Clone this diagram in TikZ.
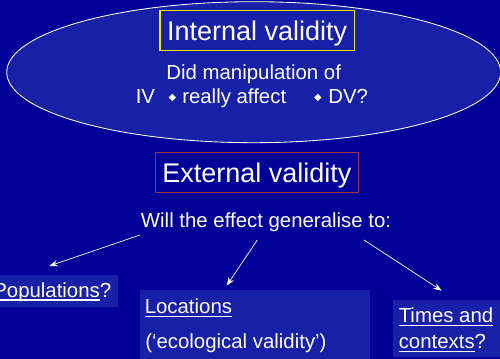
\documentclass[tikz,border=0pt]{standalone}
\usepackage{fontspec}
\setmainfont{Liberation Sans}
\newfontfamily\symbole{DejaVu Sans}
\usetikzlibrary{arrows.meta}
\definecolor{fond}{RGB}{0,0,153}
\definecolor{remplissage}{RGB}{24,32,168}
\definecolor{jaune}{RGB}{232,232,0}
\definecolor{rouge}{RGB}{160,48,72}
\newcommand\souligne[1]{\setbox0\hbox{#1}\rlap{\rule[-2.3pt]{\wd0}{0.9pt}}\box0}
\newcommand\losange{{\symbole\fontsize{7}{8}\selectfont ◆}}
\begin{document}
\begin{tikzpicture}[x=0.025cm,y=-0.025cm]
% Styles
\tikzstyle{texte}=[text=white,inner sep=0pt,font=\fontsize{14.5}{17}\selectfont]
\tikzstyle{titre}=[text=white,inner sep=0pt,line width=0.8pt,anchor=base,text height=21.5pt,text depth=7pt,font=\fontsize{19.2}{23}\selectfont]
\tikzstyle{cadre}=[fill=remplissage]
\tikzstyle{fleche}=[-{Stealth[length=6pt,width=4.5pt]},white,line width=0.5pt]
% Fond
\fill[fond] (0,0) rectangle (500,359);
\useasboundingbox (0,0) rectangle (500,359);
% Validité interne
\draw[white,fill=remplissage,line width=0.6pt] (253.7,72.2) ellipse [x radius=247,y radius=70.5];
\node[titre,draw=jaune,minimum width=4.86cm] (interne) at (257.2,41) {Internal validity};
\node[texte,anchor=base] (question) at (253.7,80) {Did manipulation of};
\node[texte,anchor=base west] (iv) at (135.5,103.3) {IV};
\node[text=white,inner sep=0pt] (los1) at (172.5,98) {\losange};
\node[texte,anchor=base west] (affect) at (182,103.3) {really affect};
\node[text=white,inner sep=0pt] (los2) at (318,98) {\losange};
\node[texte,anchor=base west] (dv) at (328,103.3) {DV?};
% Validité externe
\node[titre,draw=rouge,minimum width=5.09cm] (externe) at (256.9,182.7) {External validity};
\node[texte,anchor=base] (general) at (266,227.3) {Will the effect generalise to:};
% Cadres du bas
\fill[cadre] (0,275) rectangle (118,307);
\fill[cadre] (140,290) rectangle (370,362);
\fill[cadre] (392.7,300) rectangle (502,357);
\node[texte,anchor=base east] (pop) at (111.5,297.5) {\souligne{Populations}?};
\node[texte,anchor=base west] (loc) at (144.5,313.7) {\souligne{Locations}};
\node[texte,anchor=base west] (eco) at (145,349) {(‘ecological validity’)};
\node[texte,anchor=base west] (times) at (398.5,323) {\souligne{Times and}};
\node[texte,anchor=base west] (contexts) at (398.5,349) {\souligne{contexts}?};
% Flèches
\coordinate (d1) at (140,235);
\coordinate (d2) at (257.3,240);
\coordinate (d3) at (364,240);
\coordinate (a1) at (49.3,266);
\coordinate (a2) at (226.7,285.7);
\coordinate (a3) at (441.7,290.7);
\draw[fleche] (d1) -- (a1);
\draw[fleche] (d2) -- (a2);
\draw[fleche] (d3) -- (a3);
\end{tikzpicture}
\end{document}
